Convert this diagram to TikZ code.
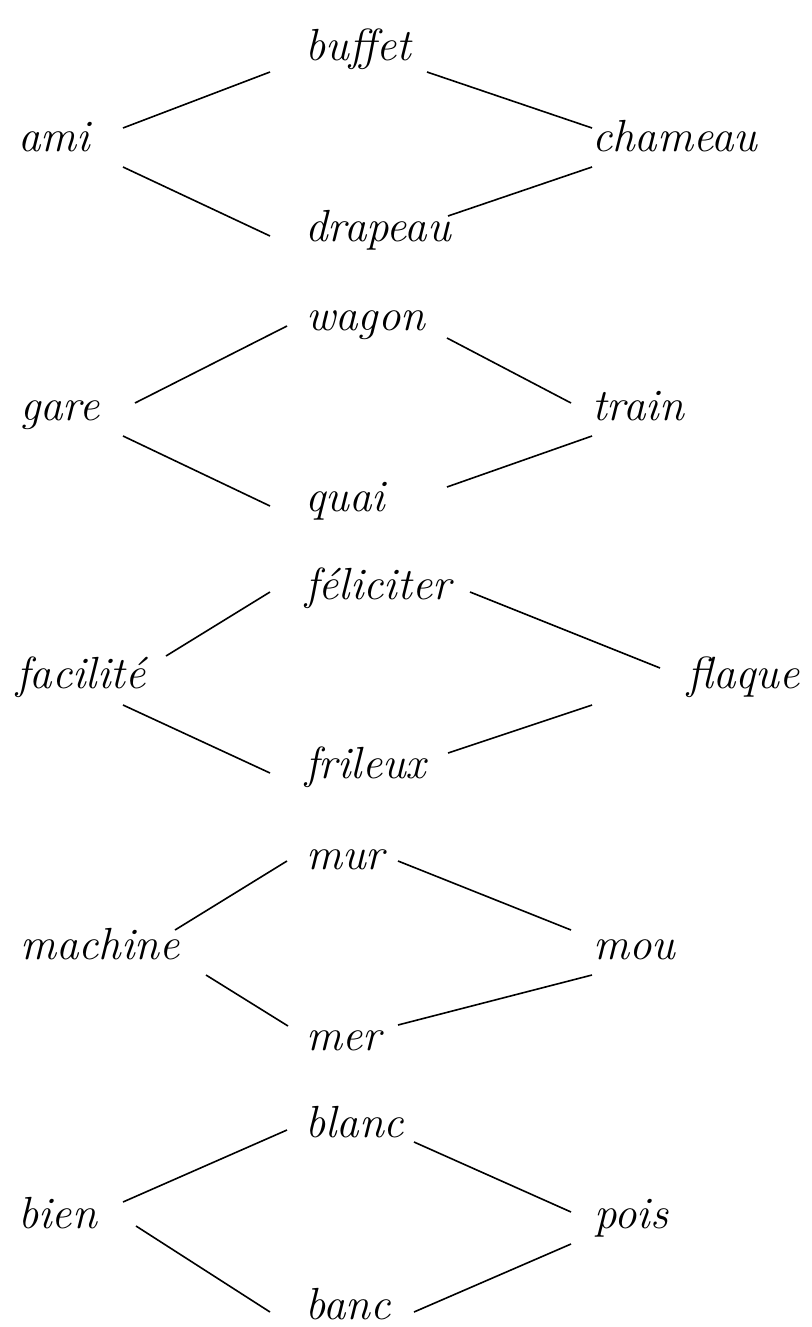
\documentclass[tikz,border=0pt]{standalone}
\usepackage{fontspec}
\usetikzlibrary{calc}
\tikzset{
  word/.style={anchor=base west, inner sep=0pt, font=\fontsize{45}{50}\selectfont\itshape},
  link/.style={line width=1.6pt, black}
}
\begin{document}
\begin{tikzpicture}[x=1pt,y=1pt]
\useasboundingbox (0,0) rectangle (811,-1327);
% group 1
\node[word] (ami) at (18,-151) {ami};
\node[word] (buffet) at (305,-61) {buffet};
\node[word] (chameau) at (592,-151) {chameau};
\node[word] (drapeau) at (305,-241) {drapeau};
\draw[link] ($(ami.base west)+(105,23)$) -- ($(buffet.base west)+(-35,-11)$);
\draw[link] ($(ami.base west)+(105,-16)$) -- ($(drapeau.base west)+(-35,5)$);
\draw[link] ($(buffet.base west)+(122,-11)$) -- ($(chameau.base west)+(0,23)$);
\draw[link] ($(chameau.base west)+(0,-16)$) -- ($(drapeau.base west)+(143,25)$);
% group 2
\node[word] (gare) at (20,-420) {gare};
\node[word] (wagon) at (306,-330) {wagon};
\node[word] (train) at (592,-420) {train};
\node[word] (quai) at (305,-511) {quai};
\draw[link] ($(gare.base west)+(115,17)$) -- ($(wagon.base west)+(-19,4)$);
\draw[link] ($(gare.base west)+(103,-16)$) -- ($(quai.base west)+(-35,5)$);
\draw[link] ($(wagon.base west)+(141,-8)$) -- ($(train.base west)+(-21,17)$);
\draw[link] ($(train.base west)+(0,-16)$) -- ($(quai.base west)+(142,24)$);
% group 3
\node[word] (facilite) at (16,-688) {facilité};
\node[word] (feliciter) at (305,-599) {féliciter};
\node[word] (flaque) at (687,-688) {flaque};
\node[word] (frileux) at (305,-778) {frileux};
\draw[link] ($(facilite.base west)+(150,32)$) -- ($(feliciter.base west)+(-35,7)$);
\draw[link] ($(facilite.base west)+(107,-17)$) -- ($(frileux.base west)+(-35,5)$);
\draw[link] ($(feliciter.base west)+(165,7)$) -- ($(flaque.base west)+(-27,20)$);
\draw[link] ($(flaque.base west)+(-95,-17)$) -- ($(frileux.base west)+(143,25)$);
% group 4
\node[word] (machine) at (20,-959) {machine};
\node[word] (mur) at (306,-869) {mur};
\node[word] (mou) at (593,-959) {mou};
\node[word] (mer) at (306,-1050) {mer};
\draw[link] ($(machine.base west)+(155,29)$) -- ($(mur.base west)+(-19,8)$);
\draw[link] ($(machine.base west)+(186,-16)$) -- ($(mer.base west)+(-18,24)$);
\draw[link] ($(mur.base west)+(92,8)$) -- ($(mou.base west)+(-22,29)$);
\draw[link] ($(mou.base west)+(-1,-16)$) -- ($(mer.base west)+(92,25)$);
% group 5
\node[word] (bien) at (18,-1228) {bien};
\node[word] (blanc) at (305,-1137) {blanc};
\node[word] (pois) at (594,-1228) {pois};
\node[word] (banc) at (305,-1319) {banc};
\draw[link] ($(bien.base west)+(105,26)$) -- ($(blanc.base west)+(-18,7)$);
\draw[link] ($(bien.base west)+(118,2)$) -- ($(banc.base west)+(-35,7)$);
\draw[link] ($(blanc.base west)+(109,-5)$) -- ($(pois.base west)+(-23,16)$);
\draw[link] ($(pois.base west)+(-23,-16)$) -- ($(banc.base west)+(109,7)$);
\end{tikzpicture}
\end{document}
